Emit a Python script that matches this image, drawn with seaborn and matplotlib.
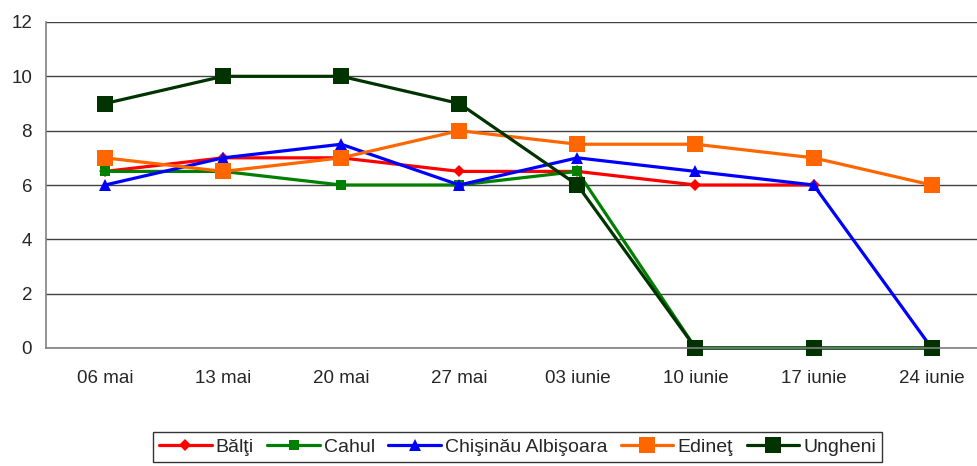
import numpy as np
import pandas as pd
import matplotlib
matplotlib.use('Agg')
import matplotlib.pyplot as plt
import seaborn as sns

# ===================== data =====================
weeks = ['06 mai', '13 mai', '20 mai', '27 mai', '03 iunie', '10 iunie', '17 iunie', '24 iunie']
balti = [6.5, 7, 7, 6.5, 6.5, 6, 6, np.nan]
cahul = [6.5, 6.5, 6, 6, 6.5, 0, 0, 0]
chisinau = [6, 7, 7.5, 6, 7, 6.5, 6, 0]
edinet = [7, 6.5, 7, 8, 7.5, 7.5, 7, 6]
ungheni = [9, 10, 10, 9, 6, 0, 0, 0]

series = {
    'Bălţi': balti,
    'Cahul': cahul,
    'Chişinău Albişoara': chisinau,
    'Edineţ': edinet,
    'Ungheni': ungheni,
}
colors = ['#FF0000', '#008000', '#0000FF', '#FF6600', '#003300']
markers = ['D', 's', '^', 's', 's']
msizes = [6, 7.5, 9, 12, 12]

rows = []
for name, vals in series.items():
    for i, v in enumerate(vals):
        rows.append({'pos': i, 'value': v, 'station': name})
df = pd.DataFrame(rows).dropna()

# ===================== plot =====================
sns.set_style('white')
plt.rcParams['font.family'] = ['Liberation Sans', 'DejaVu Sans']

W, H = 977, 466
fig = plt.figure(figsize=(W / 100, H / 100), dpi=100)
left, right_px, top_px, bot_px = 46, 990.7, 22, 348
ax = fig.add_axes([left / W, 1 - bot_px / H, (right_px - left) / W, (bot_px - top_px) / H])

for (name, _), c, m, ms in zip(series.items(), colors, markers, msizes):
    sub = df[df['station'] == name]
    sns.lineplot(data=sub, x='pos', y='value', ax=ax, color=c, marker=m,
                 markersize=ms, markeredgewidth=0, linewidth=2.3, label=name,
                 sort=False, legend=False, clip_on=False)

ax.set_xlim(-0.5, len(weeks) - 0.5)
ax.set_ylim(0, 12)
ax.set_yticks(range(0, 13, 2))
ax.yaxis.grid(True, color='#404040', linewidth=1)
ax.set_axisbelow(True)

# category labels at centres, tick marks at boundaries
ax.set_xticks(np.arange(-0.5, len(weeks), 1.0))
ax.set_xticklabels([])
ax.set_xticks(range(len(weeks)), minor=True)
ax.set_xticklabels(weeks, minor=True, fontsize=13.5)
ax.tick_params(axis='x', which='minor', length=0, pad=16)
ax.tick_params(axis='x', which='major', length=5, width=1, color='#808080', direction='out')
ax.tick_params(axis='y', length=5, width=1, color='#808080', direction='out', pad=5, labelsize=13.5)
ax.set_xlabel('')
ax.set_ylabel('')

for s in ['top', 'right']:
    ax.spines[s].set_visible(False)
for s in ['left', 'bottom']:
    ax.spines[s].set_color('#808080')
    ax.spines[s].set_linewidth(1.2)

handles, labels = ax.get_legend_handles_labels()
leg = fig.legend(handles, labels, loc='center', bbox_to_anchor=(517.5 / W, 1 - 447 / H),
                 ncol=5, fontsize=14, frameon=True, fancybox=False, handlelength=2.7,
                 handletextpad=0.2, columnspacing=0.7, borderpad=0.3, borderaxespad=0)
leg.get_frame().set_edgecolor('black')
leg.get_frame().set_linewidth(1)

fig.savefig('out.png', dpi=100)
plt.close(fig)
